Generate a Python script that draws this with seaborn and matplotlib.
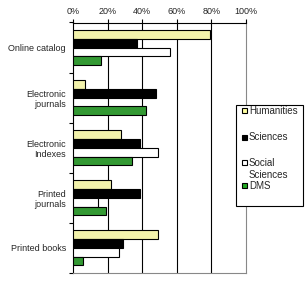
import matplotlib
matplotlib.use("Agg")
import matplotlib.pyplot as plt
import seaborn as sns
import pandas as pd
from matplotlib.patches import Rectangle
from matplotlib.ticker import FixedLocator, FuncFormatter

categories = ["Online catalog", "Electronic\njournals", "Electronic\nIndexes",
              "Printed\njournals", "Printed books"]
series_names = ["Humanities", "Sciences", "Social\nSciences", "DMS"]
humanities = [79, 7, 28, 22, 49]
sciences = [37, 48, 39, 39, 29]
social = [56, 0, 49, 14.5, 26.5]
dms = [16, 42, 34, 19, 6]
x_ticks = [0, 20, 40, 60, 80, 100]
colors = ["#FFFFA0", "#000000", "#FFFFFF", "#22AA22"]

rows = []
for name, vals in zip(series_names, [humanities, sciences, social, dms]):
    for c, v in zip(categories, vals):
        rows.append({"category": c, "series": name, "value": v})
df = pd.DataFrame(rows)

sns.set_style("white")
plt.rcParams["font.family"] = ["Liberation Sans", "DejaVu Sans"]

W, H = 306, 283
fig = plt.figure(figsize=(W / 100, H / 100), dpi=100)
ax = fig.add_axes([73 / W, 1 - 273 / H, 173 / W, 250.5 / H])

sns.barplot(data=df, y="category", x="value", hue="series", order=categories,
            hue_order=series_names, palette=colors, orient="h", width=0.7,
            edgecolor="black", linewidth=0.8, errorbar=None, ax=ax,
            legend=False, zorder=3)

ax.set_xlim(0, 100)
ax.set_ylim(len(categories) - 0.5, -0.5)
ax.xaxis.set_major_locator(FixedLocator(x_ticks))
ax.xaxis.set_major_formatter(FuncFormatter(lambda v, p: f"{int(v)}%"))
ax.xaxis.tick_top()
ax.tick_params(axis="x", which="major", direction="out", length=3, width=0.8,
               color="black", labelsize=6.5, pad=2, top=True, bottom=False)
for xv in x_ticks[1:-1]:
    ax.axvline(xv, color="black", lw=0.8, zorder=1)
ax.set_xlabel("")
ax.set_ylabel("")

ax.set_yticks(range(len(categories)))
ax.set_yticklabels(categories, fontsize=6.5)
ax.tick_params(axis="y", which="major", length=0, pad=5)
ax.set_yticks([i + 0.5 for i in range(-1, len(categories))], minor=True)
ax.tick_params(axis="y", which="minor", direction="out", length=3, width=0.8,
               color="black", left=True)

for s in ["top", "left"]:
    ax.spines[s].set_color("black")
    ax.spines[s].set_linewidth(0.8)
for s in ["right", "bottom"]:
    ax.spines[s].set_color("#888888")
    ax.spines[s].set_linewidth(0.8)
    ax.spines[s].set_visible(True)
ax.spines["right"].set_zorder(0)

# legend box (drawn manually to match the original spacing)
fig.add_artist(Rectangle((236 / W, 1 - 206 / H), 67 / W, 101 / H,
                         transform=fig.transFigure, facecolor="white",
                         edgecolor="black", linewidth=0.8, zorder=10))
entry_y = [110.8, 137.2, 162.5, 185.5]
for name, col, yc in zip(series_names, colors, entry_y):
    fig.add_artist(Rectangle((241.5 / W, 1 - (yc + 2.5) / H), 5 / W, 5 / H,
                             transform=fig.transFigure, facecolor=col,
                             edgecolor="black", linewidth=0.8, zorder=11))
    for k, ln in enumerate(name.split("\n")):
        fig.text(249 / W, 1 - (yc + 3.3 + 12.2 * k) / H, ln, fontsize=7,
                 va="baseline", ha="left", zorder=12)

fig.savefig("out.png", dpi=100)
